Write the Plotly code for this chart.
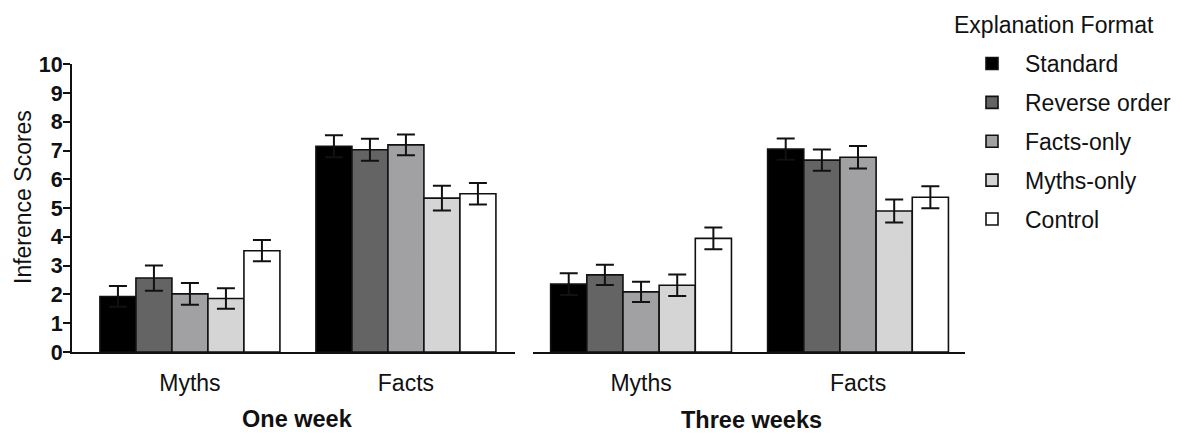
import plotly.graph_objects as go

# Explanation formats (one bar per format inside each item-type group)
formats = ["Standard", "Reverse order", "Facts-only", "Myths-only", "Control"]
item_types = ["Myths", "Facts"]
y_ticks = list(range(0, 11))

# Mean inference scores, ordered as in `formats`
one_week_myths = [1.93, 2.57, 2.02, 1.86, 3.52]
one_week_facts = [7.15, 7.03, 7.20, 5.35, 5.50]
three_weeks_myths = [2.36, 2.68, 2.09, 2.32, 3.95]
three_weeks_facts = [7.05, 6.67, 6.77, 4.90, 5.38]

# Standard errors
one_week_myths_se = [0.36, 0.44, 0.38, 0.36, 0.37]
one_week_facts_se = [0.38, 0.38, 0.36, 0.43, 0.37]
three_weeks_myths_se = [0.38, 0.35, 0.35, 0.37, 0.38]
three_weeks_facts_se = [0.37, 0.37, 0.39, 0.40, 0.38]

fill_colors = ["#000000", "#646464", "#a1a1a3", "#d5d5d5", "#ffffff"]

W, H = 1186, 434
FONT = "Liberation Sans, Arial, sans-serif"
INK = "#111111"

fig = go.Figure()

panels = [
    ("x", "y", one_week_myths, one_week_facts, one_week_myths_se, one_week_facts_se, True),
    ("x2", "y2", three_weeks_myths, three_weeks_facts, three_weeks_myths_se, three_weeks_facts_se, False),
]

for xa, ya, myths, facts, myths_se, facts_se, show in panels:
    for i, name in enumerate(formats):
        fig.add_trace(go.Bar(
            x=item_types,
            y=[myths[i], facts[i]],
            error_y=dict(type="data", array=[myths_se[i], facts_se[i]],
                         color=INK, thickness=2, width=9),
            name=name,
            legendgroup=name,
            showlegend=show,
            marker=dict(color=fill_colors[i], line=dict(color=INK, width=1.6)),
            xaxis=xa, yaxis=ya,
        ))


def px_x(p):
    return p / W


def px_y(p):
    return 1 - p / H


y_dom = [px_y(352), px_y(64.3)]

axis_line = dict(showline=True, linecolor=INK, linewidth=2, showgrid=False, zeroline=False)


def text_note(text, x, y, size, xanchor="center", angle=0):
    return dict(text=text, x=px_x(x), y=px_y(y), xref="paper", yref="paper",
                showarrow=False, font=dict(size=size, color=INK), textangle=angle,
                xanchor=xanchor, yanchor="middle")


fig.update_layout(
    width=W, height=H,
    margin=dict(l=0, r=0, t=0, b=0),
    paper_bgcolor="white", plot_bgcolor="white",
    barmode="group", bargap=1 / 6, bargroupgap=0,
    font=dict(family=FONT, color=INK),
    xaxis=dict(domain=[px_x(72), px_x(515)], range=[-0.546, 1.505], ticks="",
               tickfont=dict(size=23), ticklabelstandoff=9, automargin=False, **axis_line),
    xaxis2=dict(domain=[px_x(533), px_x(965)], range=[-0.498, 1.493], ticks="",
                tickfont=dict(size=23), ticklabelstandoff=9, automargin=False, **axis_line),
    yaxis=dict(domain=y_dom, range=[0, 10], tickvals=y_ticks,
               ticktext=[f"<b>{v}</b>" for v in y_ticks],
               ticks="outside", ticklen=7, tickwidth=2, tickcolor=INK,
               tickfont=dict(size=21.5), ticklabelstandoff=-4, automargin=False,
               **axis_line),
    yaxis2=dict(domain=y_dom, range=[0, 10], anchor="x2", visible=False),
    legend=dict(
        x=px_x(959), xanchor="left", y=px_y(42), yanchor="top",
        font=dict(size=23), itemwidth=56, tracegroupgap=6,
        bgcolor="rgba(0,0,0,0)",
    ),
    annotations=[
        text_note("Inference Scores", 23, 197, 23, angle=-90),
        text_note("Explanation Format", 952, 25, 23, xanchor="left"),
        text_note("<b>One week</b>", 297, 419, 23.5),
        text_note("<b>Three weeks</b>", 751, 420, 23.5),
    ],
)

fig.write_html("out.html")
